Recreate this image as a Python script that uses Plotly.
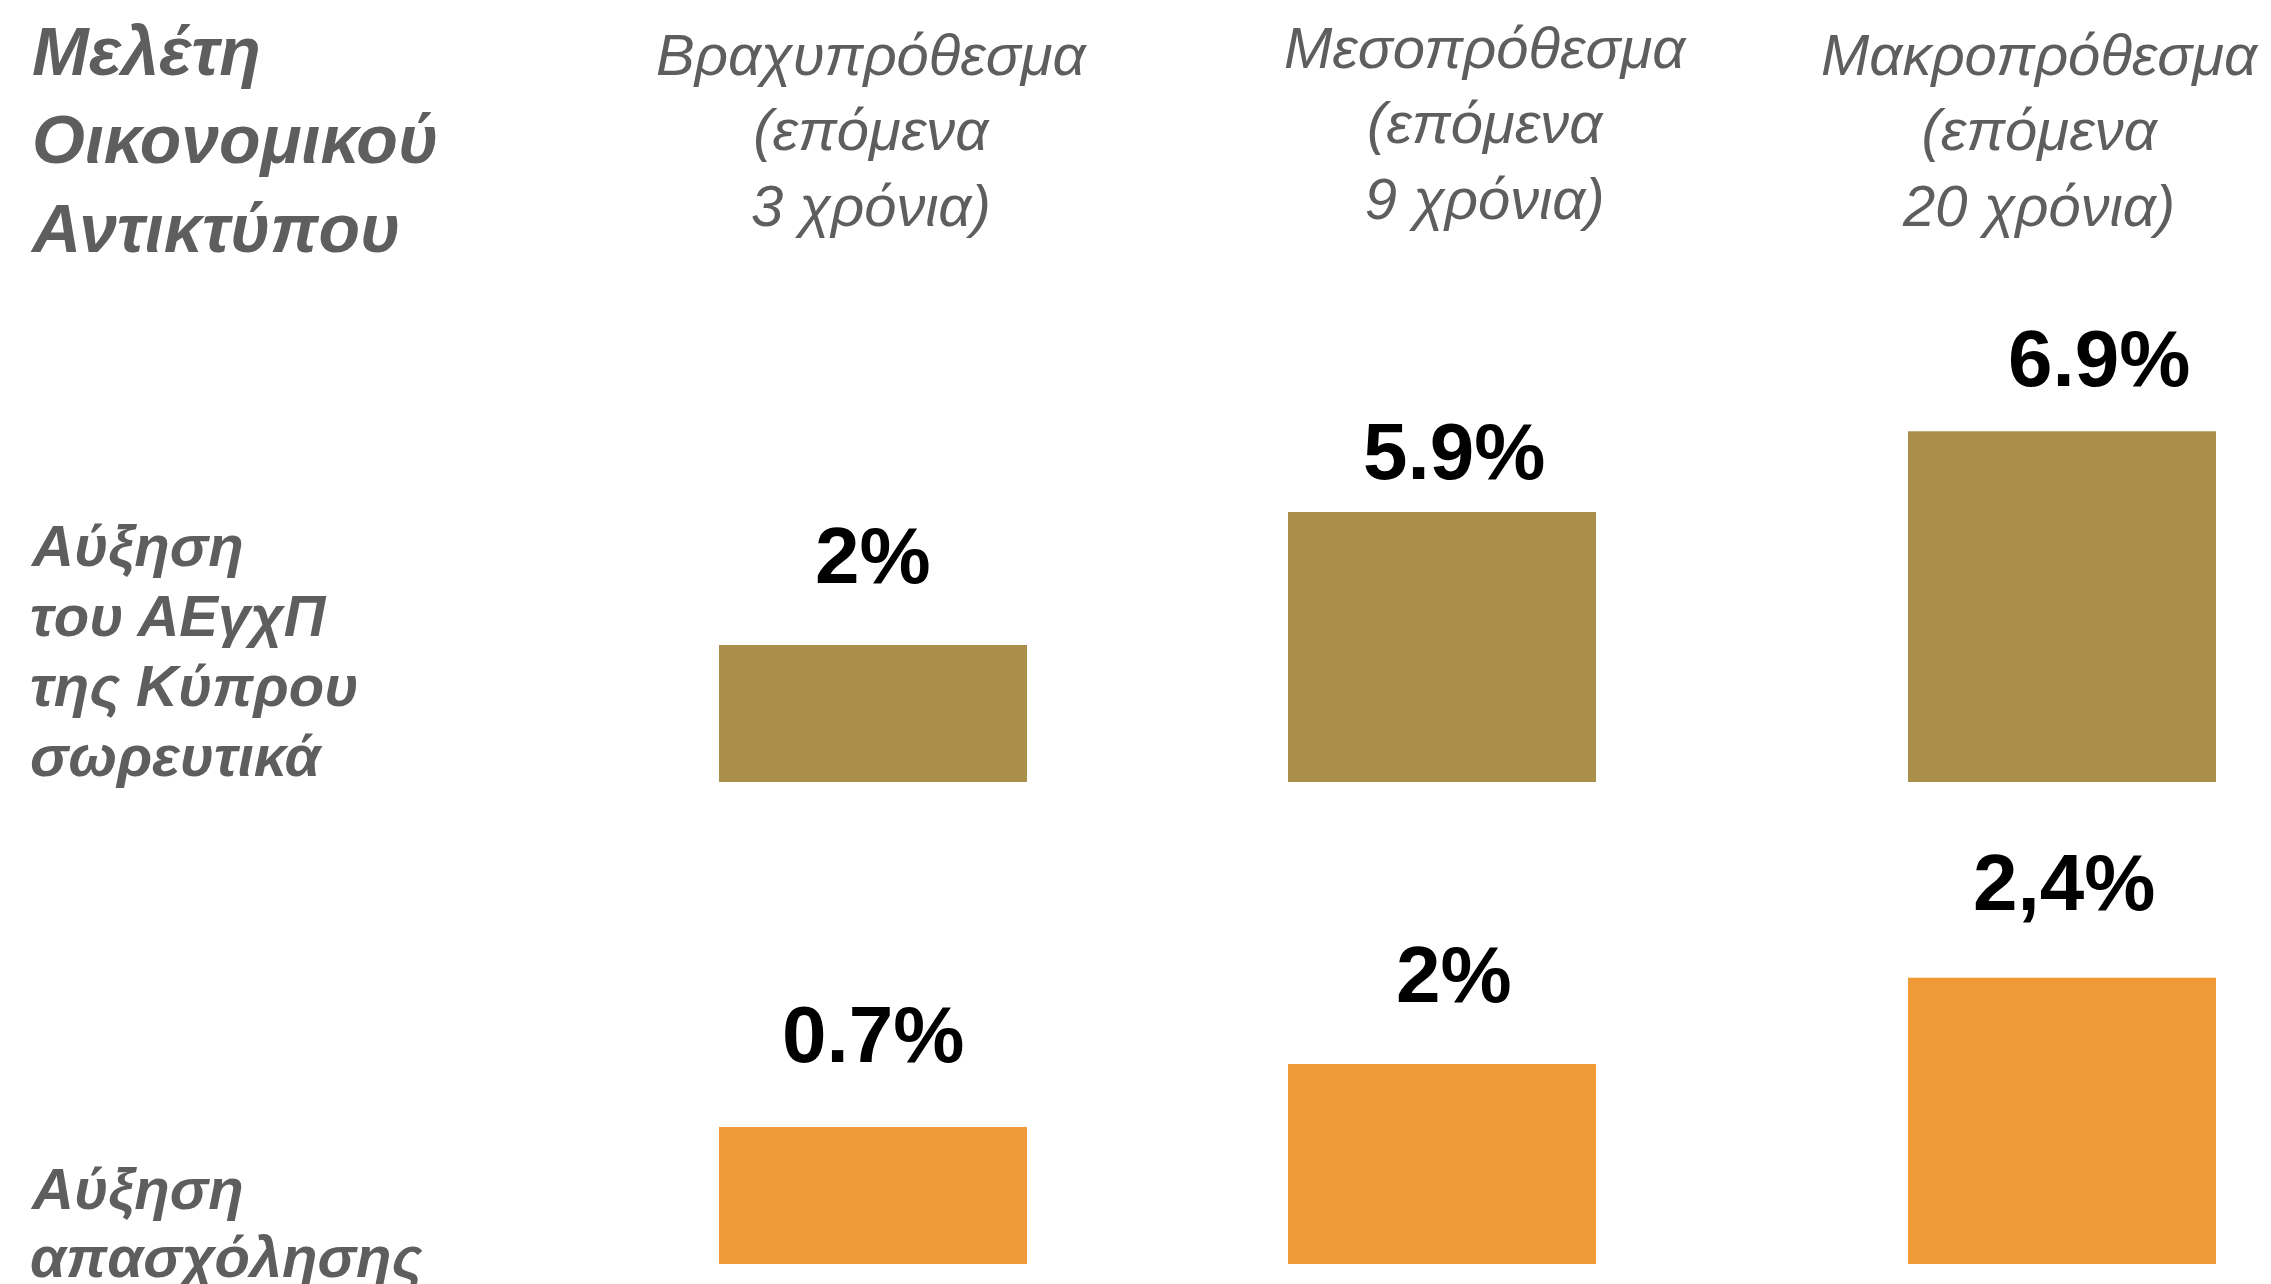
import plotly.graph_objects as go

# ---------------- data ----------------
periods = ["Βραχυπρόθεσμα", "Μεσοπρόθεσμα", "Μακροπρόθεσμα"]
horizons = ["3 χρόνια", "9 χρόνια", "20 χρόνια"]

gdp_labels = ["2%", "5.9%", "6.9%"]
gdp_bar_heights = [1.00, 1.97, 2.56]      # drawn heights (infographic, not to scale)

emp_labels = ["0.7%", "2%", "2,4%"]
emp_bar_heights = [1.00, 1.46, 2.09]      # drawn heights (infographic, not to scale)

title_text = "Μελέτη<br>Οικονομικού<br>Αντικτύπου"
gdp_row_lines = ["Αύξηση", "του ΑΕγχΠ", "της Κύπρου", "σωρευτικά"]
emp_row_lines = ["Αύξηση", "απασχόλησης"]

# ---------------- style ----------------
W, H = 2271, 1284
OFF = 8  # page offset of the plot div (body margin)
GOLD = "#AA8F4A"
ORANGE = "#EF9A37"
GREY = "#5E5E5E"
FONT = "Liberation Sans, Arial, sans-serif"


def px_x(px):
    return (px - OFF) / W


def px_y(py):
    return 1 - (py - OFF) / H


col_px = [(719, 1027), (1288, 1596), (1908, 2216)]
col_domains = [(px_x(a), px_x(b)) for a, b in col_px]
px_per_unit = 137.0
row_px = 400.0
gdp_bottom_px, emp_bottom_px = 782, 1264
yrange = [0, row_px / px_per_unit]
gdp_domain = [px_y(gdp_bottom_px), px_y(gdp_bottom_px - row_px)]
emp_domain = [px_y(emp_bottom_px), px_y(emp_bottom_px - row_px)]

# label nudges (pixels) relative to the bar top centre
gdp_nudge = [(0, 90), (12, 61), (37, 73)]
emp_nudge = [(0, 93), (12, 89), (2, 95)]

header_pos = [(872, 130.5), (1485, 123), (2040, 130.5)]

fig = go.Figure()
axis_names = ["x", "x2", "x3"]
for i, p in enumerate(periods):
    fig.add_trace(go.Bar(x=[p], y=[gdp_bar_heights[i]], xaxis=axis_names[i], yaxis="y",
                         marker=dict(color=GOLD, line=dict(width=0)), width=1,
                         hoverinfo="skip", showlegend=False))
    fig.add_trace(go.Bar(x=[p], y=[emp_bar_heights[i]], xaxis=axis_names[i], yaxis="y2",
                         marker=dict(color=ORANGE, line=dict(width=0)), width=1,
                         hoverinfo="skip", showlegend=False))

layout = dict(
    width=W, height=H,
    margin=dict(l=0, r=0, t=0, b=0),
    paper_bgcolor="white", plot_bgcolor="white",
    showlegend=False,
    yaxis=dict(domain=gdp_domain, range=yrange, visible=False, anchor="x", fixedrange=True),
    yaxis2=dict(domain=emp_domain, range=yrange, visible=False, anchor="x", fixedrange=True),
)
for i, name in enumerate(["xaxis", "xaxis2", "xaxis3"]):
    layout[name] = dict(domain=list(col_domains[i]), type="category", range=[-0.5, 0.5],
                        visible=False, anchor="y", fixedrange=True)
fig.update_layout(**layout)

ann = []
# value labels
for i, p in enumerate(periods):
    for labels, heights, nudge, yref in ((gdp_labels, gdp_bar_heights, gdp_nudge, "y"),
                                         (emp_labels, emp_bar_heights, emp_nudge, "y2")):
        ann.append(dict(x=p, y=heights[i], xref=axis_names[i], yref=yref,
                        text=labels[i], showarrow=False, xanchor="center", yanchor="middle",
                        xshift=nudge[i][0], yshift=nudge[i][1],
                        font=dict(family=FONT, size=80, color="black", weight="bold")))
# column headers
for i, p in enumerate(periods):
    cx, cy = header_pos[i]
    ann.append(dict(x=px_x(cx), y=px_y(cy), xref="paper", yref="paper",
                    text=f"{p}<br>(επόμενα<br>{horizons[i]})", showarrow=False,
                    xanchor="center", yanchor="middle", align="center",
                    font=dict(family=FONT, size=58, color=GREY, style="italic")))
# left title
ann.append(dict(x=px_x(28), y=px_y(139.5), xref="paper", yref="paper", text=title_text,
                showarrow=False, xanchor="left", yanchor="middle", align="left",
                font=dict(family=FONT, size=68, color=GREY, style="italic", weight="bold")))
# row labels, one annotation per line for tight line spacing
row_font = dict(family=FONT, size=58, color=GREY, style="italic", weight="bold")
for lines, first_py, step in ((gdp_row_lines, 545, 70), (emp_row_lines, 1188, 68)):
    for j, line in enumerate(lines):
        ann.append(dict(x=px_x(28), y=px_y(first_py + j * step), xref="paper", yref="paper",
                        text=line, showarrow=False, xanchor="left", yanchor="middle",
                        align="left", font=row_font))
fig.update_layout(annotations=ann)

fig.write_html("out.html", config={"displayModeBar": False})
